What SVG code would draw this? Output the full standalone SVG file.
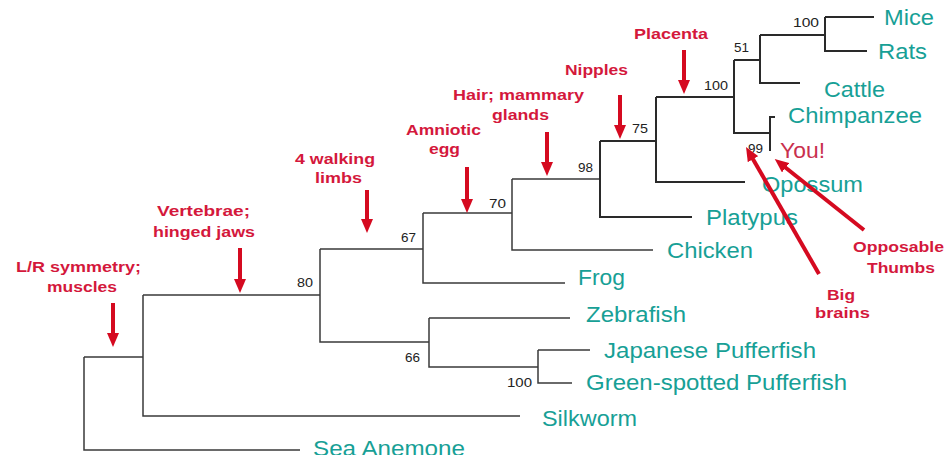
<svg xmlns="http://www.w3.org/2000/svg" width="949" height="462" viewBox="0 0 949 462">
<defs>
<marker id="ah" viewBox="0 0 14 12" refX="6" refY="6" markerWidth="14" markerHeight="12" markerUnits="userSpaceOnUse" orient="auto">
<path d="M0,0 L14,6 L0,12 Z" fill="#d50a20"/>
</marker>
<clipPath id="bottomcut"><rect x="0" y="0" width="949" height="455"/></clipPath>
<style>
.br{fill:none;stroke:#3a3a3a;stroke-width:1.5}
.brt{fill:none;stroke:#2a2a2a;stroke-width:2}
.sp{font-family:"Liberation Sans",Arial,sans-serif;font-size:22px;fill:#17a096}
.you{font-family:"Liberation Sans",Arial,sans-serif;font-size:22px;fill:#c9304e}
.bs{font-family:"Liberation Sans",Arial,sans-serif;font-size:13.5px;fill:#222}
.ev{font-family:"Liberation Sans",Arial,sans-serif;font-size:15px;font-weight:bold;fill:#d4183c}
.ar{stroke:#d50a20;stroke-width:4;fill:none;marker-end:url(#ah)}
</style>
</defs>
<rect width="949" height="462" fill="#ffffff"/>

<g id="connectors">
<path class="br" d="M84,357 V450 H300 M84,357 H143"/>
<path class="br" d="M143,295 V416 H520 M143,295 H320"/>
<path class="br" d="M320,249 V342 H429 M320,249 H423"/>
<path class="br" d="M423,213 V283 H565 M423,213 H512"/>
<path class="br" d="M512,179 V250 H653 M512,179 H600"/>
<path class="brt" d="M600,141 V217 H692 M600,141 H656"/>
<path class="brt" d="M656,97 V182 H745 M656,97 H734"/>
<path class="brt" d="M734,60 V133 H770 M734,60 H760"/>
<path class="brt" d="M770,151 V117 H775"/>
<path class="brt" d="M760,35 V83 H800 M760,35 H825"/>
<path class="brt" d="M825,17 V51 H867 M825,17 H874"/>
<path class="br" d="M429,318 V367 H538"/>
<path class="br" d="M429,318 H570"/>
<path class="br" d="M538,350 V383 H572 M538,350 H590"/>
</g>

<g id="bootstrap">
<text class="bs" x="793" y="27" textLength="26" lengthAdjust="spacingAndGlyphs">100</text>
<text class="bs" x="734" y="52" textLength="15" lengthAdjust="spacingAndGlyphs">51</text>
<text class="bs" x="704" y="90" textLength="24" lengthAdjust="spacingAndGlyphs">100</text>
<text class="bs" x="632" y="133" textLength="16" lengthAdjust="spacingAndGlyphs">75</text>
<text class="bs" x="748" y="153" textLength="15" lengthAdjust="spacingAndGlyphs">99</text>
<text class="bs" x="578" y="172" textLength="15" lengthAdjust="spacingAndGlyphs">98</text>
<text class="bs" x="489" y="208" textLength="17" lengthAdjust="spacingAndGlyphs">70</text>
<text class="bs" x="401" y="242" textLength="15" lengthAdjust="spacingAndGlyphs">67</text>
<text class="bs" x="297" y="287" textLength="16" lengthAdjust="spacingAndGlyphs">80</text>
<text class="bs" x="405" y="362" textLength="15" lengthAdjust="spacingAndGlyphs">66</text>
<text class="bs" x="507" y="387" textLength="25" lengthAdjust="spacingAndGlyphs">100</text>
</g>

<g id="mice"><text class="sp" x="884" y="25" textLength="50" lengthAdjust="spacingAndGlyphs">Mice</text></g>
<g id="rats"><text class="sp" x="878" y="59" textLength="49" lengthAdjust="spacingAndGlyphs">Rats</text></g>
<g id="cattle"><text class="sp" x="824" y="97" textLength="61" lengthAdjust="spacingAndGlyphs">Cattle</text></g>
<g id="chimpanzee"><text class="sp" x="788" y="123" textLength="134" lengthAdjust="spacingAndGlyphs">Chimpanzee</text></g>
<g id="you"><text class="you" x="780" y="158" textLength="45" lengthAdjust="spacingAndGlyphs">You!</text></g>
<g id="opossum"><text class="sp" x="762" y="192" textLength="101" lengthAdjust="spacingAndGlyphs">Opossum</text></g>
<g id="platypus"><text class="sp" x="706" y="225" textLength="92" lengthAdjust="spacingAndGlyphs">Platypus</text></g>
<g id="chicken"><text class="sp" x="667" y="258" textLength="86" lengthAdjust="spacingAndGlyphs">Chicken</text></g>
<g id="frog"><text class="sp" x="578" y="285" textLength="47" lengthAdjust="spacingAndGlyphs">Frog</text></g>
<g id="zebrafish"><text class="sp" x="586" y="322" textLength="100" lengthAdjust="spacingAndGlyphs">Zebrafish</text></g>
<g id="japanese-pufferfish"><text class="sp" x="604" y="358" textLength="212" lengthAdjust="spacingAndGlyphs">Japanese Pufferfish</text></g>
<g id="green-spotted-pufferfish"><text class="sp" x="586" y="390" textLength="261" lengthAdjust="spacingAndGlyphs">Green-spotted Pufferfish</text></g>
<g id="silkworm"><text class="sp" x="542" y="426" textLength="95" lengthAdjust="spacingAndGlyphs">Silkworm</text></g>
<g id="sea-anemone" clip-path="url(#bottomcut)"><text class="sp" x="313" y="456" textLength="152" lengthAdjust="spacingAndGlyphs">Sea Anemone</text></g>

<g id="ev-lr">
<text class="ev" x="16" y="272" textLength="125" lengthAdjust="spacingAndGlyphs">L/R symmetry;</text>
<text class="ev" x="47" y="292" textLength="70" lengthAdjust="spacingAndGlyphs">muscles</text>
<line class="ar" x1="113" y1="303" x2="113" y2="339"/>
</g>
<g id="ev-vertebrae">
<text class="ev" x="157" y="216" textLength="93" lengthAdjust="spacingAndGlyphs">Vertebrae;</text>
<text class="ev" x="153" y="237" textLength="102" lengthAdjust="spacingAndGlyphs">hinged jaws</text>
<line class="ar" x1="240" y1="248" x2="240" y2="285"/>
</g>
<g id="ev-limbs">
<text class="ev" x="295" y="164" textLength="80" lengthAdjust="spacingAndGlyphs">4 walking</text>
<text class="ev" x="315" y="183" textLength="47" lengthAdjust="spacingAndGlyphs">limbs</text>
<line class="ar" x1="367" y1="190" x2="367" y2="225"/>
</g>
<g id="ev-amniotic">
<text class="ev" x="406" y="135" textLength="75" lengthAdjust="spacingAndGlyphs">Amniotic</text>
<text class="ev" x="429" y="154" textLength="31" lengthAdjust="spacingAndGlyphs">egg</text>
<line class="ar" x1="467" y1="167" x2="467" y2="205"/>
</g>
<g id="ev-hair">
<text class="ev" x="453" y="100" textLength="131" lengthAdjust="spacingAndGlyphs">Hair; mammary</text>
<text class="ev" x="492" y="120" textLength="57" lengthAdjust="spacingAndGlyphs">glands</text>
<line class="ar" x1="547" y1="132" x2="547" y2="168"/>
</g>
<g id="ev-nipples">
<text class="ev" x="565" y="75" textLength="63" lengthAdjust="spacingAndGlyphs">Nipples</text>
<line class="ar" x1="620" y1="95" x2="620" y2="131"/>
</g>
<g id="ev-placenta">
<text class="ev" x="634" y="39" textLength="74" lengthAdjust="spacingAndGlyphs">Placenta</text>
<line class="ar" x1="684" y1="50" x2="684" y2="86"/>
</g>
<g id="ev-brains">
<text class="ev" x="827" y="300" textLength="28" lengthAdjust="spacingAndGlyphs">Big</text>
<text class="ev" x="815" y="318" textLength="55" lengthAdjust="spacingAndGlyphs">brains</text>
<line class="ar" x1="819" y1="274" x2="750" y2="154"/>
</g>
<g id="ev-thumbs">
<text class="ev" x="853" y="252" textLength="91" lengthAdjust="spacingAndGlyphs">Opposable</text>
<text class="ev" x="867" y="273" textLength="68" lengthAdjust="spacingAndGlyphs">Thumbs</text>
<line class="ar" x1="864" y1="230" x2="781" y2="164"/>
</g>
</svg>
